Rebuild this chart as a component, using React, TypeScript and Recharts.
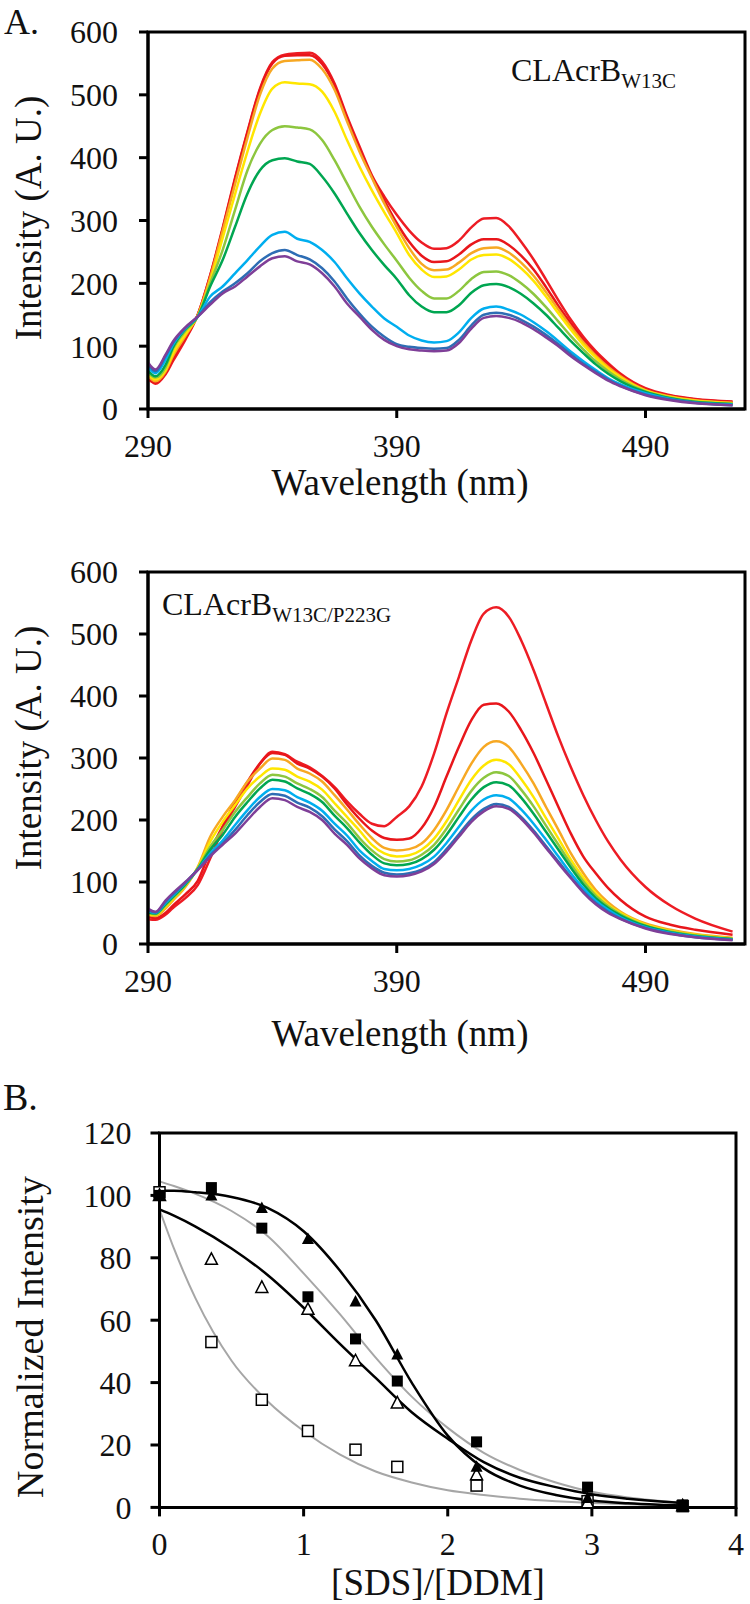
import { LineChart, Line, XAxis, YAxis, ReferenceArea, ComposedChart, Scatter } from 'recharts';

// wavelength grid shared by both emission panels (nm)
const wavelengthNm = [290, 293, 297, 300, 305, 310, 315, 320, 325, 330, 335, 340, 345, 350, 355, 360, 365, 370, 375, 380, 385, 390, 395, 400, 405, 410, 415, 420, 425, 430, 435, 440, 445, 450, 455, 460, 465, 470, 475, 480, 490, 500, 510, 525];

// CLAcrB W13C
const w13cRed1 = [50, 40, 55, 76, 110, 150, 213, 288, 368, 442, 510, 552, 564, 566, 567, 553, 518, 466, 418, 372, 338, 309, 284, 265, 255, 256, 268, 289, 303, 304, 291, 266, 238, 206, 173, 142, 115, 92, 73, 56, 33, 22, 16, 12];
const w13cRed2 = [47, 42, 57, 80, 113, 150, 212, 286, 366, 440, 508, 550, 562, 563, 563, 549, 515, 463, 414, 370, 332, 296, 266, 244, 234, 235, 246, 262, 270, 270, 261, 244, 222, 194, 164, 136, 110, 88, 70, 54, 31, 21, 15, 11];
const w13cOrange = [53, 44, 59, 84, 116, 149, 209, 283, 358, 432, 500, 542, 554, 555, 556, 541, 508, 458, 410, 368, 327, 290, 256, 231, 221, 222, 233, 248, 256, 257, 249, 233, 212, 186, 158, 131, 106, 85, 67, 52, 30, 20, 14, 10];
const w13cYellow = [56, 47, 62, 88, 119, 148, 203, 272, 342, 410, 470, 510, 520, 518, 517, 505, 473, 428, 386, 348, 313, 280, 245, 222, 210, 211, 222, 238, 245, 246, 239, 224, 204, 179, 152, 126, 102, 82, 64, 50, 29, 19, 13, 9];
const w13cLightGreen = [58, 50, 66, 95, 124, 147, 200, 253, 317, 380, 422, 444, 450, 448, 445, 428, 396, 359, 322, 290, 262, 236, 209, 188, 176, 176, 188, 207, 218, 219, 213, 200, 183, 162, 139, 116, 95, 76, 60, 47, 28, 18, 12, 8];
const w13cGreen = [61, 52, 70, 98, 127, 147, 195, 237, 290, 343, 380, 396, 399, 394, 390, 370, 343, 311, 280, 253, 229, 207, 181, 163, 154, 154, 165, 185, 197, 199, 194, 183, 168, 150, 129, 108, 89, 71, 56, 44, 27, 17, 11, 8];
const w13cLightBlue = [66, 57, 78, 102, 128, 147, 179, 195, 216, 237, 259, 277, 282, 271, 266, 253, 234, 208, 184, 163, 144, 131, 117, 109, 106, 108, 122, 145, 160, 163, 158, 150, 138, 124, 108, 91, 76, 62, 49, 39, 25, 16, 10, 7];
const w13cBlue = [72, 60, 84, 105, 129, 147, 170, 187, 200, 216, 235, 248, 253, 245, 238, 224, 203, 176, 152, 131, 115, 103, 99, 97, 96, 97, 110, 133, 150, 153, 150, 142, 131, 118, 103, 87, 72, 59, 47, 37, 23, 15, 10, 6];
const w13cPurple = [74, 63, 86, 107, 130, 147, 166, 184, 195, 211, 227, 240, 243, 235, 230, 216, 195, 168, 147, 126, 110, 100, 95, 93, 92, 93, 105, 128, 145, 148, 145, 138, 127, 114, 100, 84, 70, 57, 45, 36, 22, 14, 9, 6];

// CLAcrB W13C/P223G
const p223gRed1 = [40, 39, 47, 58, 74, 95, 138, 184, 221, 256, 291, 310, 306, 294, 285, 271, 253, 230, 210, 194, 190, 205, 222, 254, 307, 372, 431, 490, 533, 543, 528, 490, 442, 388, 334, 285, 240, 200, 165, 136, 92, 62, 41, 20];
const p223gRed2 = [44, 42, 50, 62, 80, 102, 150, 190, 229, 262, 291, 308, 305, 291, 283, 270, 251, 225, 202, 183, 171, 168, 170, 187, 221, 270, 318, 361, 386, 388, 375, 345, 308, 265, 221, 178, 141, 114, 90, 71, 44, 31, 23, 15];
const p223gOrange = [47, 45, 57, 70, 92, 124, 173, 205, 232, 262, 283, 299, 297, 283, 275, 262, 240, 217, 193, 171, 155, 151, 153, 162, 184, 216, 254, 291, 318, 327, 318, 291, 259, 221, 184, 146, 114, 87, 67, 52, 33, 23, 16, 10];
const p223gYellow = [48, 47, 60, 72, 94, 123, 165, 197, 224, 251, 270, 283, 281, 270, 262, 249, 227, 205, 183, 160, 146, 141, 143, 152, 170, 198, 232, 265, 288, 297, 290, 266, 237, 203, 170, 136, 107, 82, 63, 50, 31, 21, 15, 9];
const p223gLightGreen = [50, 48, 62, 74, 95, 122, 157, 184, 213, 237, 259, 273, 270, 259, 250, 237, 215, 195, 171, 151, 137, 133, 135, 144, 160, 186, 217, 247, 268, 277, 271, 249, 222, 191, 160, 129, 101, 78, 61, 48, 30, 20, 14, 8];
const p223gGreen = [51, 49, 64, 76, 96, 121, 152, 176, 205, 229, 251, 265, 262, 251, 242, 229, 207, 187, 164, 144, 130, 127, 129, 137, 152, 176, 205, 233, 253, 261, 256, 236, 210, 181, 152, 123, 96, 74, 58, 46, 29, 19, 13, 8];
const p223gLightBlue = [53, 50, 66, 78, 98, 120, 146, 167, 192, 216, 237, 250, 248, 237, 228, 215, 194, 175, 151, 134, 121, 119, 121, 128, 141, 163, 189, 215, 233, 240, 235, 217, 194, 168, 141, 114, 90, 70, 55, 43, 27, 18, 12, 7];
const p223gBlue = [55, 51, 68, 80, 99, 120, 143, 162, 184, 208, 229, 242, 239, 228, 220, 206, 185, 166, 143, 126, 115, 112, 114, 120, 132, 153, 177, 201, 218, 226, 221, 205, 183, 158, 133, 108, 85, 66, 52, 41, 26, 17, 11, 7];
const p223gPurple = [57, 52, 70, 82, 100, 119, 141, 160, 178, 200, 221, 235, 232, 221, 213, 200, 178, 160, 138, 122, 111, 109, 111, 117, 129, 149, 173, 197, 214, 222, 218, 202, 180, 155, 130, 106, 83, 64, 50, 40, 25, 16, 11, 6];

// panel B: measured points
const ratioX = [0, 0.36, 0.71, 1.03, 1.36, 1.65, 2.2, 2.97, 3.63];
const filledTriangles = [100, 100, 96, 86, 66, 49, 13, 3, 0.8];
const filledSquares = [100, 102.5, 89.5, 67.5, 54, 40.5, 21, 6.5, 0.8];
const openTriangles = [100, 79.5, 70.5, 63.5, 47, 33.5, 10.5, 1.5, 0.5];
const openSquares = [101, 53, 34.5, 24.5, 18.5, 13, 7, 2, 0.4];

// panel B: fitted curves
const fitX = [0, 0.1, 0.25, 0.5, 0.75, 1, 1.25, 1.5, 1.75, 2, 2.25, 2.5, 2.75, 3, 3.25, 3.5, 3.63];
const fitFilledTriangles = [101.5, 101.5, 101, 99.5, 96, 88.5, 76, 60, 40, 23, 12.5, 7, 4, 2.2, 1.3, 0.8, 0.6];
const fitFilledSquares = [104.5, 103, 100.5, 95, 87, 75, 62, 48, 35.5, 25.5, 17.5, 12, 8, 5, 3.2, 2, 1.5];
const fitOpenTriangles = [95.5, 93.5, 90, 83, 74.5, 64, 52.5, 41.5, 30.5, 22, 14.5, 9.5, 6.5, 4.2, 2.8, 1.8, 1.4];
const fitOpenSquares = [95.5, 83, 67, 47, 34, 24.5, 17, 11.5, 8, 5.5, 4, 2.8, 2, 1.4, 1, 0.7, 0.6];

const seriesKeys = ['red1', 'red2', 'orange', 'yellow', 'lightGreen', 'green', 'lightBlue', 'blue', 'purple'];
const rainbow = ['#ED1C24', '#E8161B', '#F7A823', '#FFE600', '#8DC63F', '#00A651', '#00AEEF', '#2E6DB4', '#7F3F98'];

const serif = '"Liberation Serif", "Times New Roman", Times, serif';
const tickStyle = { fontFamily: serif, fontSize: 32, fill: '#111', style: { fontFamily: serif } };
const axisStroke = { stroke: '#000', strokeWidth: 3 };
const textStyle = { fontFamily: serif };

const buildRows = (curves: number[][]) =>
  wavelengthNm.map((nm, i) => {
    const row: Record<string, number> = { nm };
    curves.forEach((c, k) => {
      row[seriesKeys[k]] = c[i];
    });
    return row;
  });

const w13cRows = buildRows([w13cRed1, w13cRed2, w13cOrange, w13cYellow, w13cLightGreen, w13cGreen, w13cLightBlue, w13cBlue, w13cPurple]);
const p223gRows = buildRows([p223gRed1, p223gRed2, p223gOrange, p223gYellow, p223gLightGreen, p223gGreen, p223gLightBlue, p223gBlue, p223gPurple]);

const toPoints = (xs: number[], ys: number[]) => xs.map((x, i) => ({ x, y: ys[i] }));

type SpectrumProps = { rows: Record<string, number>[]; top: number; marginTop: number; marginBottom: number };

const SpectrumChart = ({ rows, top, marginTop, marginBottom }: SpectrumProps) => (
  <div style={{ position: 'absolute', left: 0, top, width: 750, height: 520, fontFamily: serif }}>
    <LineChart width={750} height={520} data={rows} margin={{ top: marginTop, right: 5, bottom: marginBottom, left: 88 }}>
      <XAxis
        dataKey='nm'
        type='number'
        domain={[290, 530]}
        ticks={[290, 390, 490]}
        height={30}
        axisLine={axisStroke}
        tickLine={axisStroke}
        tickSize={9}
        tickMargin={16}
        tick={tickStyle}
      />
      <YAxis
        type='number'
        domain={[0, 600]}
        ticks={[0, 100, 200, 300, 400, 500, 600]}
        interval={0}
        width={60}
        axisLine={axisStroke}
        tickLine={axisStroke}
        tickSize={9}
        tickMargin={21}
        tick={tickStyle}
      />
      <ReferenceArea x1={290} x2={530} y1={0} y2={600} fill='none' stroke='#000' strokeWidth={3} ifOverflow='visible' />
      {seriesKeys.map((k, i) => (
        <Line
          key={k}
          dataKey={k}
          type='monotone'
          stroke={rainbow[i]}
          strokeWidth={2.5}
          dot={false}
          activeDot={false}
          isAnimationActive={false}
        />
      ))}
    </LineChart>
  </div>
);

const squareShape = (filled: boolean) => (p: any) => (
  <rect
    x={p.cx - 5.5}
    y={p.cy - 5.5}
    width={11}
    height={11}
    fill={filled ? '#000' : '#fff'}
    stroke='#000'
    strokeWidth={filled ? 0 : 1.5}
  />
);

const triangleShape = (filled: boolean) => (p: any) => (
  <path
    d={`M${p.cx},${p.cy - 6.5} L${p.cx + 6},${p.cy + 5} L${p.cx - 6},${p.cy + 5} Z`}
    fill={filled ? '#000' : '#fff'}
    stroke='#000'
    strokeWidth={filled ? 0 : 1.5}
  />
);

const TitrationChart = () => (
  <div style={{ position: 'absolute', left: 0, top: 1040, width: 750, height: 564, fontFamily: serif }}>
    <ComposedChart width={750} height={564} margin={{ top: 93, right: 14, bottom: 66.6, left: 99.5 }}>
      <XAxis
        dataKey='x'
        type='number'
        domain={[0, 4]}
        ticks={[0, 1, 2, 3, 4]}
        height={30}
        axisLine={axisStroke}
        tickLine={axisStroke}
        tickSize={9}
        tickMargin={16}
        tick={tickStyle}
      />
      <YAxis
        type='number'
        domain={[0, 120]}
        ticks={[0, 20, 40, 60, 80, 100, 120]}
        interval={0}
        width={60}
        axisLine={axisStroke}
        tickLine={axisStroke}
        tickSize={9}
        tickMargin={19}
        tick={tickStyle}
      />
      <ReferenceArea x1={0} x2={4} y1={0} y2={120} fill='none' stroke='#000' strokeWidth={3} ifOverflow='visible' />
      <Line data={toPoints(fitX, fitOpenSquares)} dataKey='y' type='monotone' stroke='#a6a6a6' strokeWidth={2} dot={false} activeDot={false} isAnimationActive={false} />
      <Line data={toPoints(fitX, fitFilledSquares)} dataKey='y' type='monotone' stroke='#a6a6a6' strokeWidth={2} dot={false} activeDot={false} isAnimationActive={false} />
      <Line data={toPoints(fitX, fitOpenTriangles)} dataKey='y' type='monotone' stroke='#000' strokeWidth={2.5} dot={false} activeDot={false} isAnimationActive={false} />
      <Line data={toPoints(fitX, fitFilledTriangles)} dataKey='y' type='monotone' stroke='#000' strokeWidth={2.5} dot={false} activeDot={false} isAnimationActive={false} />
      <Scatter data={toPoints(ratioX, openSquares)} dataKey='y' shape={squareShape(false)} isAnimationActive={false} />
      <Scatter data={toPoints(ratioX, openTriangles)} dataKey='y' shape={triangleShape(false)} isAnimationActive={false} />
      <Scatter data={toPoints(ratioX, filledSquares)} dataKey='y' shape={squareShape(true)} isAnimationActive={false} />
      <Scatter data={toPoints(ratioX, filledTriangles)} dataKey='y' shape={triangleShape(true)} isAnimationActive={false} />
    </ComposedChart>
  </div>
);

const App = () => (
  <div style={{ position: 'absolute', left: 0, top: 0, width: 750, height: 1604, background: '#fff', overflow: 'hidden', fontFamily: serif }}>
    <SpectrumChart rows={w13cRows} top={0} marginTop={32} marginBottom={81} />
    <SpectrumChart rows={p223gRows} top={520} marginTop={52} marginBottom={66} />
    <TitrationChart />
    <svg width={750} height={1604} style={{ position: 'absolute', left: 0, top: 0, pointerEvents: 'none' }}>
      <g fill='#111' style={textStyle}>
        <text x={4} y={34} fontSize={36} style={textStyle}>A.</text>
        <text x={511} y={81} fontSize={32} style={textStyle}>
          CLAcrB<tspan fontSize={21} dy={7}>W13C</tspan>
        </text>
        <text x={400} y={495} fontSize={37} textAnchor='middle' style={textStyle}>Wavelength (nm)</text>
        <text x={41} y={218} fontSize={37} textAnchor='middle' transform='rotate(-90 41 218)' style={textStyle}>Intensity (A. U.)</text>

        <text x={162} y={615} fontSize={32} style={textStyle}>
          CLAcrB<tspan fontSize={21} dy={7}>W13C/P223G</tspan>
        </text>
        <text x={400} y={1046} fontSize={37} textAnchor='middle' style={textStyle}>Wavelength (nm)</text>
        <text x={41} y={748} fontSize={37} textAnchor='middle' transform='rotate(-90 41 748)' style={textStyle}>Intensity (A. U.)</text>

        <text x={3} y={1110} fontSize={38} style={textStyle}>B.</text>
        <text x={438} y={1595} fontSize={37} textAnchor='middle' style={textStyle}>[SDS]/[DDM]</text>
        <text x={43} y={1337} fontSize={38} textAnchor='middle' transform='rotate(-90 43 1337)' style={textStyle}>Normalized Intensity</text>
      </g>
    </svg>
  </div>
);

export default App;
